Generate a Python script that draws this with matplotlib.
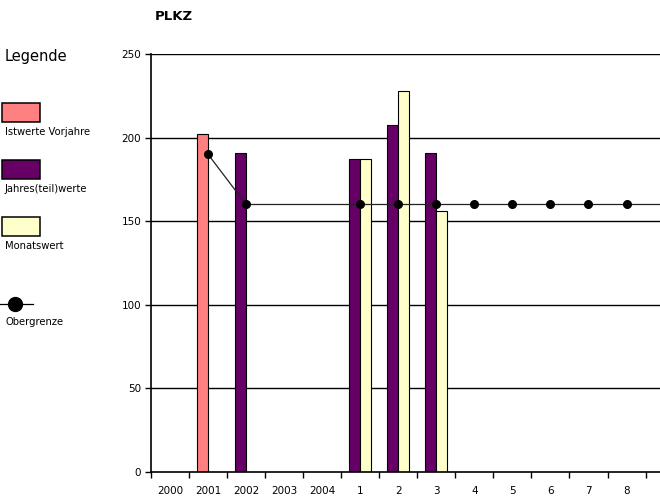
import numpy as np
import matplotlib
matplotlib.use("Agg")
import matplotlib.pyplot as plt
from matplotlib.patches import Rectangle
from matplotlib.lines import Line2D

nan = np.nan

# categories: previous years, then months
categories = ["2000", "2001", "2002", "2003", "2004",
              "1", "2", "3", "4", "5", "6", "7", "8", "9", "10", "11", "12"]
istwerte_vorjahre = [nan, 202, nan, nan, nan, nan, nan, nan, nan, nan, nan, nan, nan, nan, nan, nan, nan]
jahres_teilwerte = [nan, nan, 191, nan, nan, 187, 207.5, 191, nan, nan, nan, nan, nan, nan, nan, nan, nan]
monatswert = [nan, nan, nan, nan, nan, 187, 228, 156, nan, nan, nan, nan, nan, nan, nan, nan, nan]
obergrenze = [nan, 190, 160, 160, 160, 160, 160, 160, 160, 160, 160, 160, 160, 160, 160, 160, 160]
obergrenze_marker = [1, 2, 5, 6, 7, 8, 9, 10, 11, 12, 13, 14, 15, 16]

col_pink = "#FF8080"
col_purple = "#660066"
col_yellow = "#FFFFCC"

fig = plt.figure(figsize=(6.6, 4.97), dpi=100)
ax = fig.add_axes([0.2288, 0.0503, 0.7712, 0.841])

x = np.arange(len(categories))
w = 0.29

# horizontal grid lines
for yv in [50, 100, 150, 200, 250]:
    ax.axhline(yv, color="black", linewidth=1.0, zorder=1)

ax.bar(x - w / 2, istwerte_vorjahre, width=w, color=col_pink, edgecolor="black", linewidth=0.8, zorder=2)
ax.bar(x - w / 2, jahres_teilwerte, width=w, color=col_purple, edgecolor="black", linewidth=0.8, zorder=2)
ax.bar(x + w / 2, monatswert, width=w, color=col_yellow, edgecolor="black", linewidth=0.8, zorder=2)

ax.plot(x, obergrenze, color="#222222", linewidth=0.9, marker="o", markersize=5.5,
        markerfacecolor="black", markeredgecolor="black", markevery=obergrenze_marker, zorder=3)

ax.set_yticks([0, 50, 100, 150, 200, 250])
ax.set_xticks(x)
ax.set_xticklabels(categories)
ax.set_xticks(np.arange(-0.5, len(categories), 1.0), minor=True)
ax.tick_params(axis="x", which="major", length=0, pad=10, labelsize=7.5)
ax.tick_params(axis="x", which="minor", length=4, width=1, direction="out")
ax.tick_params(axis="y", length=4, width=1, direction="out", labelsize=7.5, pad=3)

# set limits after the ticks (ticks outside would widen the view)
ax.set_xlim(-0.5, 12.88)
ax.set_ylim(0, 250)

for side in ["top", "right"]:
    ax.spines[side].set_visible(False)
for side in ["left", "bottom"]:
    ax.spines[side].set_linewidth(1.2)

# title
fig.text(155 / 660, 1 - 16 / 497, "PLKZ", fontsize=9.5, fontweight="bold", va="center", ha="left")

# legend on the left
fig.text(5 / 660, 1 - 56 / 497, "Legende", fontsize=10.5, va="center", ha="left")

def legend_box(y_top, color, label):
    fig.patches.append(Rectangle((2 / 660, 1 - (y_top + 19) / 497), 38 / 660, 19 / 497,
                                 transform=fig.transFigure, facecolor=color, edgecolor="black",
                                 linewidth=1.1))
    fig.text(5 / 660, 1 - (y_top + 29) / 497, label, fontsize=7.2, va="center", ha="left")

legend_box(103, col_pink, "Istwerte Vorjahre")
legend_box(160, col_purple, "Jahres(teil)werte")
legend_box(217, col_yellow, "Monatswert")

fig.lines.append(Line2D([0 / 660, 33 / 660], [1 - 304 / 497, 1 - 304 / 497], transform=fig.transFigure,
                        color="black", linewidth=0.9))
fig.lines.append(Line2D([15 / 660], [1 - 304 / 497], transform=fig.transFigure, marker="o",
                        markersize=10, color="black"))
fig.text(5 / 660, 1 - 322 / 497, "Obergrenze", fontsize=7.2, va="center", ha="left")

fig.savefig("out.png", dpi=100)
